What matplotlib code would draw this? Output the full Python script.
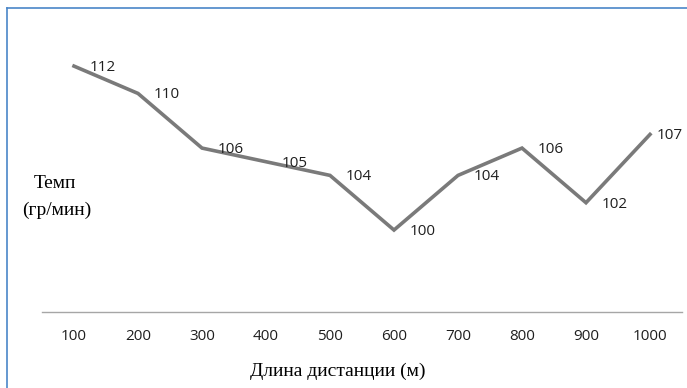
import matplotlib.pyplot as plt

# Дистанции и темп
distances = ['100', '200', '300', '400', '500', '600', '700', '800', '900', '1000']
tempo = [112, 110, 106, 105, 104, 100, 104, 106, 102, 107]

fig = plt.figure(figsize=(6.87, 3.88), dpi=100)
ax = fig.add_axes([42/687, 1 - 312/388, 640/687, (312 - 38.8)/388])

x = range(len(distances))
ax.plot(x, tempo, color='#7a7a7a', lw=2.6, solid_joinstyle='miter')

# подписи значений справа от точек
for i, v in enumerate(tempo):
    dx = 5 if i == len(tempo) - 1 else 11
    ax.annotate(str(v), (i, v), xytext=(dx, -1), textcoords='offset points',
                ha='left', va='center', fontsize=11, family='Open Sans',
                color='#1f1f1f')

ax.set_xlim(-0.5, len(distances) - 0.5)
ax.set_ylim(94, 114)
ax.set_xticks(list(x))
ax.set_xticklabels(distances, family='Open Sans', fontsize=11, color='#1f1f1f')
ax.set_yticks([])
ax.tick_params(axis='x', length=0, pad=12.5)

for s in ['top', 'right', 'left']:
    ax.spines[s].set_visible(False)
ax.spines['bottom'].set_color('#a6a6a6')
ax.spines['bottom'].set_linewidth(1.0)

fig.text(55/687, 1 - 183/388, 'Темп', family='Liberation Serif', fontsize=14,
         ha='center', va='center')
fig.text(57/687, 1 - 210/388, '(гр/мин)', family='Liberation Serif', fontsize=14,
         ha='center', va='center')
fig.text(338/687, 1 - 371/388, 'Длина дистанции (м)', family='Liberation Serif',
         fontsize=14, ha='center', va='center')

# рамка слева и сверху
fig.add_artist(plt.Line2D([7/687, 7/687], [0, 1 - 8/388], color='#4a86c8', lw=1.2,
                          transform=fig.transFigure))
fig.add_artist(plt.Line2D([7/687, 1], [1 - 8/388, 1 - 8/388], color='#4a86c8', lw=1.2,
                          transform=fig.transFigure))

fig.savefig('out.png', dpi=100)
